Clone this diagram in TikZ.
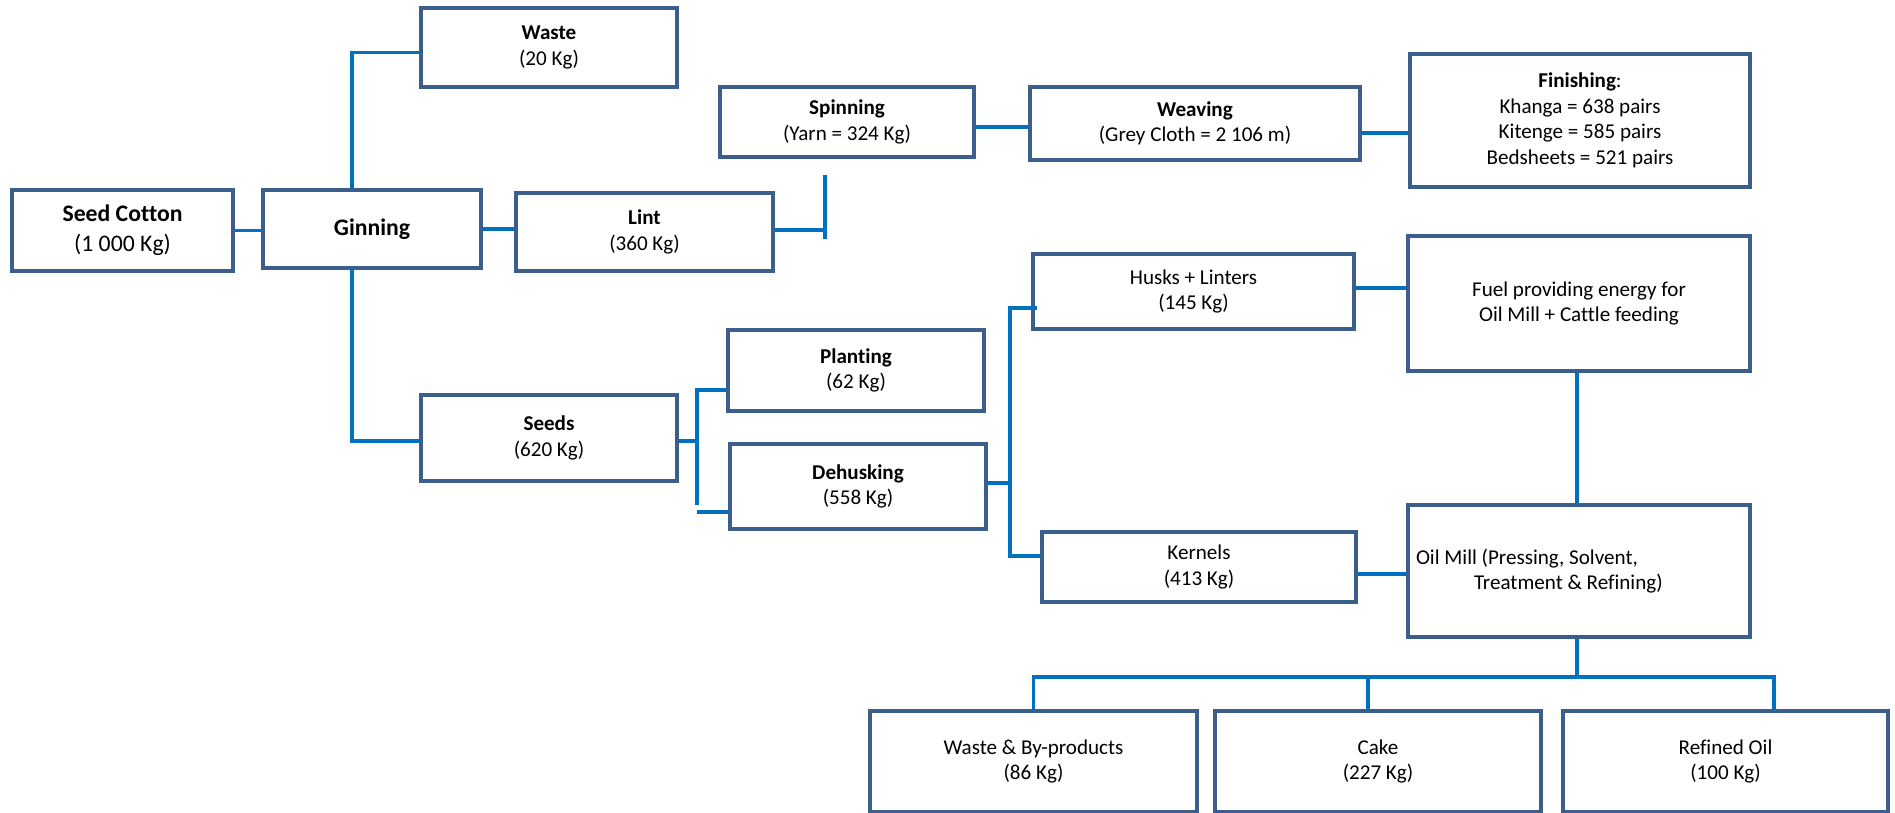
\documentclass[tikz,border=0pt]{standalone}
\usepackage{fontspec}
\setmainfont{Carlito}[Ligatures=NoCommon]
\usetikzlibrary{positioning,calc}
\definecolor{boxblue}{RGB}{60,94,140}
\definecolor{linkblue}{RGB}{0,112,192}

\begin{document}
\begin{tikzpicture}[
    box/.style={draw=boxblue, line width=2.6pt, fill=white, align=center,
        inner sep=2pt, font=\fontsize{12}{14.5}\selectfont},
    bigbox/.style={box, font=\fontsize{13.5}{17}\selectfont},
    link/.style={draw=linkblue, line width=2.2pt}
]
    % Canvas
    \useasboundingbox (0,0) rectangle (37.9,-16.26);

    % Ginning stage
    \node[bigbox, minimum width=4.42cm, minimum height=1.62cm] (seed) at (2.45,-4.61) {\textbf{Seed Cotton}\\(1 000 Kg)};
    \node[bigbox, minimum width=4.36cm, minimum height=1.56cm] (gin) at (7.44,-4.58) {\textbf{Ginning}};
    \node[box, minimum width=5.12cm, minimum height=1.58cm] (waste) at (10.98,-0.95) {\textbf{Waste}\\(20 Kg)};
    \node[box, minimum width=5.14cm, minimum height=1.56cm] (lint) at (12.89,-4.64) {\textbf{Lint}\\(360 Kg)};
    \node[box, minimum width=5.12cm, minimum height=1.72cm] (seeds) at (10.98,-8.76) {\textbf{Seeds}\\(620 Kg)};

    % Textile line
    \node[box, minimum width=5.08cm, minimum height=1.40cm] (spin) at (16.94,-2.44) {\textbf{Spinning}\\(Yarn = 324 Kg)};
    \node[box, minimum width=6.60cm, minimum height=1.46cm] (weave) at (23.90,-2.47) {\textbf{Weaving}\\(Grey Cloth = 2 106 m)};
    \node[box, minimum width=6.80cm, minimum height=2.66cm] (finish) at (31.60,-2.41) {\textbf{Finishing}:\\Khanga = 638 pairs\\Kitenge = 585 pairs\\Bedsheets = 521 pairs};

    % Seed line
    \node[box, minimum width=5.12cm, minimum height=1.62cm] (plant) at (17.12,-7.41) {\textbf{Planting}\\(62 Kg)};
    \node[box, minimum width=5.12cm, minimum height=1.70cm] (dehusk) at (17.16,-9.73) {\textbf{Dehusking}\\(558 Kg)};
    \node[box, minimum width=6.42cm, minimum height=1.50cm] (husk) at (23.87,-5.83) {Husks + Linters\\(145 Kg)};
    \node[box, minimum width=6.28cm, minimum height=1.40cm] (kern) at (23.98,-11.34) {Kernels\\(413 Kg)};
    \node[box, minimum width=6.84cm, minimum height=2.70cm] (fuel) at (31.58,-6.07) {Fuel providing energy for\\Oil Mill + Cattle feeding};
    \node[box, text width=6.52cm, inner xsep=0.16cm, align=flush left, minimum height=2.64cm] (oil) at (31.58,-11.42)
        {Oil Mill (Pressing, Solvent,\\\hspace*{1.16cm}Treatment \& Refining)};

    % Oil mill products
    \node[box, minimum width=6.54cm, minimum height=2.02cm] (wbp) at (20.67,-15.23) {Waste \& By-products\\(86 Kg)};
    \node[box, minimum width=6.52cm, minimum height=2.02cm] (cake) at (27.56,-15.23) {Cake\\(227 Kg)};
    \node[box, minimum width=6.50cm, minimum height=2.02cm] (refined) at (34.51,-15.23) {Refined Oil\\(100 Kg)};

    % Junction points
    \coordinate (gtop) at ([xshift=-0.4cm]gin.north);
    \coordinate (gbot) at ([xshift=-0.4cm]gin.south);
    \coordinate (ljt) at (16.5,-3.5);
    \coordinate (ljb) at (16.5,-4.78);
    \coordinate (sjt) at (13.94,-7.8);
    \coordinate (sjb) at (13.94,-10.1);
    \coordinate (sjl) at (13.94,-10.24);
    \coordinate (djt) at (20.2,-6.16);
    \coordinate (djb) at (20.2,-11.12);
    \coordinate (bus) at (31.54,-13.54);

    % Connectors
    \draw[link] (seed.east) -- (seed.east -| gin.west);
    \draw[link] (gin.east) -- (gin.east -| lint.west);
    \draw[link] (gtop) |- ([yshift=-0.1cm]waste.west);
    \draw[link] (gbot) |- ([yshift=-0.06cm]seeds.west);
    \draw[link] (lint.east |- 0,-4.6) -- (ljt |- 0,-4.6);
    \draw[link] (ljt) -- (ljb);
    \draw[link] ([yshift=-0.1cm]spin.east) -- ([yshift=-0.1cm]spin.east -| weave.west);
    \draw[link] ([yshift=-0.19cm]weave.east) -- ([yshift=-0.19cm]weave.east -| finish.west);
    \draw[link] ([yshift=-0.06cm]seeds.east) -- ([yshift=-0.06cm]seeds.east -| sjt);
    \draw[link] (plant.west |- sjt) -- (sjt) -- (sjb);
    \draw[link] (sjl) -- (sjl -| dehusk.west);
    \draw[link] ([yshift=0.07cm]dehusk.east) -- ([yshift=0.07cm]dehusk.east -| djt);
    \draw[link] ([xshift=0.12cm]husk.west |- djt) -- (djt) |- (kern.west |- djb);
    \draw[link] ([yshift=0.07cm]husk.east) -- ([yshift=0.07cm]husk.east -| fuel.west);
    \draw[link] (fuel.south -| bus) -- (oil.north -| bus);
    \draw[link] ([yshift=-0.14cm]kern.east) -- ([yshift=-0.14cm]kern.east -| oil.west);
    \draw[link] (oil.south -| bus) -- (bus);
    \draw[link] (wbp.north) |- ([xshift=0.97cm]refined.north |- bus) -- ([xshift=0.97cm]refined.north);
    \draw[link] ([xshift=-0.2cm]cake.north) -- ([xshift=-0.2cm]cake.north |- bus);

\end{tikzpicture}
\end{document}
